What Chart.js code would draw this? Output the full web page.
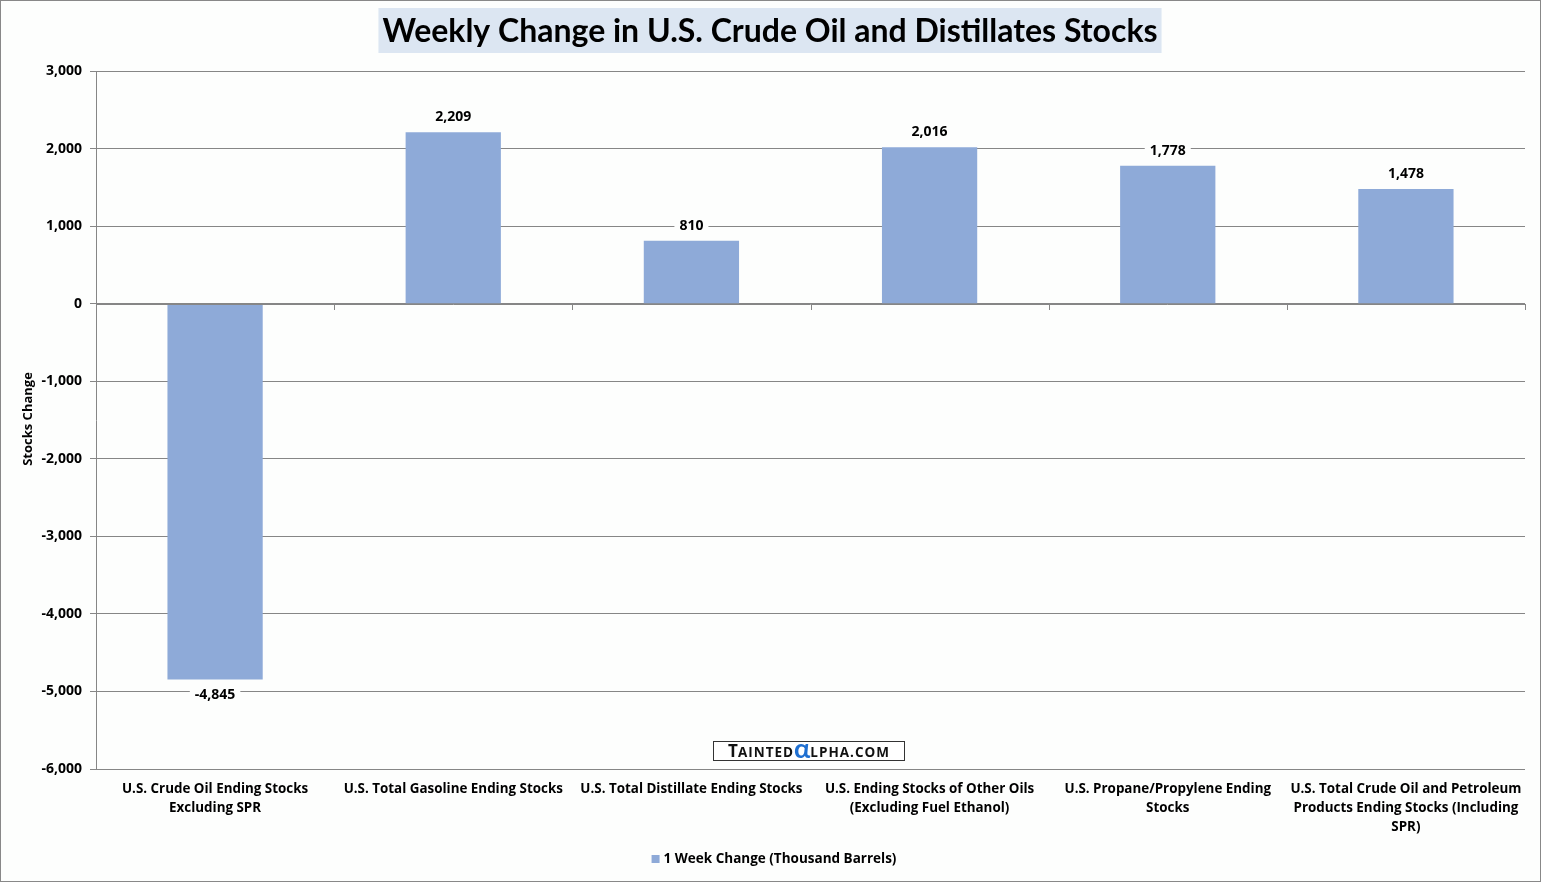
<!DOCTYPE html>
<html>
<head>
<meta charset="utf-8">
<script src="https://cdn.jsdelivr.net/npm/chart.js@4"></script>
<style>
html,body{margin:0;padding:0;background:#fff;}
#wrap{width:1541px;height:882px;position:relative;}
</style>
</head>
<body>
<div id="wrap"><canvas id="c" width="1541" height="882"></canvas></div>
<script>
const titleText = "Weekly Change in U.S. Crude Oil and Distillates Stocks";
const seriesName = "1 Week Change (Thousand Barrels)";
const categories = [
  ["U.S. Crude Oil Ending Stocks", "Excluding SPR"],
  ["U.S. Total Gasoline Ending Stocks"],
  ["U.S. Total Distillate Ending Stocks"],
  ["U.S. Ending Stocks of Other Oils", "(Excluding Fuel Ethanol)"],
  ["U.S. Propane/Propylene Ending", "Stocks"],
  ["U.S. Total Crude Oil and Petroleum", "Products Ending Stocks (Including", "SPR)"]
];
const weekChange = [-4845, 2209, 810, 2016, 1778, 1478];
const yMin = -6000, yMax = 3000, yStep = 1000;
const yTitle = "Stocks Change";

const TFONT = "Lato, 'Open Sans', sans-serif";
const FONT = "'Open Sans', sans-serif";
const barColor = "#8eaad8";
const gridColor = "#868686";
const fmt = v => v.toLocaleString("en-US");

const decor = {
  id: "decor",
  beforeDraw(chart) {
    const ctx = chart.ctx;
    ctx.save();
    ctx.fillStyle = "#fdfefd";
    ctx.fillRect(0, 0, chart.width, chart.height);
    ctx.restore();
  },
  afterDatasetsDraw(chart) {
    const ctx = chart.ctx;
    const x = chart.scales.x, y = chart.scales.y;
    const y0 = y.getPixelForValue(0);
    ctx.save();
    ctx.strokeStyle = gridColor;
    ctx.lineWidth = 1;
    ctx.beginPath();
    ctx.moveTo(chart.chartArea.left, Math.round(y0) + 0.5);
    ctx.lineTo(chart.chartArea.right, Math.round(y0) + 0.5);
    for (let i = 0; i <= categories.length; i++) {
      const px = Math.round(x.getPixelForValue(i - 0.5)) + 0.5;
      ctx.moveTo(px, Math.round(y0));
      ctx.lineTo(px, Math.round(y0) + 6);
    }
    ctx.stroke();
    const meta = chart.getDatasetMeta(0);
    ctx.font = "bold 14px " + FONT;
    ctx.textAlign = "center";
    ctx.textBaseline = "middle";
    meta.data.forEach((bar, i) => {
      const v = weekChange[i];
      const t = fmt(v);
      const ly = v >= 0 ? bar.y - 15 : bar.y + 16;
      const w = ctx.measureText(t).width + 10;
      ctx.fillStyle = "#fdfefd";
      ctx.fillRect(bar.x - w / 2, ly - 9, w, 18);
      ctx.fillStyle = "#000";
      ctx.fillText(t, bar.x, ly);
    });
    ctx.restore();
  },
  afterDraw(chart) {
    const ctx = chart.ctx;
    ctx.save();
    ctx.font = "bold 32px " + TFONT;
    ctx.textAlign = "center";
    ctx.textBaseline = "middle";
    const tw = ctx.measureText(titleText).width;
    const cx = 770;
    ctx.fillStyle = "#dce6f2";
    ctx.fillRect(cx - tw / 2 - 4, 8, tw + 8, 45);
    ctx.fillStyle = "#000";
    ctx.fillText(titleText, cx, 32);
    ctx.save();
    ctx.translate(28, 419);
    ctx.rotate(-Math.PI / 2);
    ctx.font = "bold 13px " + FONT;
    ctx.fillText(yTitle, 0, 0);
    ctx.restore();
    ctx.font = "bold 13.5px " + FONT;
    ctx.textAlign = "left";
    const lw = ctx.measureText(seriesName).width;
    const lx = 774 - (lw + 12) / 2;
    ctx.fillStyle = barColor;
    ctx.fillRect(lx, 855, 8, 8);
    ctx.fillStyle = "#000";
    ctx.fillText(seriesName, lx + 12, 859);
    // watermark
    const parts = [
      { t: "T", f: "bold 17px " + FONT, c: "#111", dy: 0, sp: 0 },
      { t: "AINTED", f: "bold 13.5px " + FONT, c: "#111", dy: 0, sp: 1 },
      { t: "α", f: "bold 27px " + TFONT, c: "#1f6fd1", dy: 1, sp: 0 },
      { t: "LPHA.COM", f: "bold 13.5px " + FONT, c: "#111", dy: 0, sp: 1 }
    ];
    let total = 0;
    parts.forEach(p => { ctx.font = p.f; p.w = 0; for (const ch of p.t) p.w += ctx.measureText(ch).width + p.sp; total += p.w; });
    ctx.fillStyle = "#fff";
    ctx.fillRect(713.5, 741.5, 191, 19);
    ctx.strokeStyle = "#333";
    ctx.lineWidth = 1;
    ctx.strokeRect(713.5, 741.5, 191, 19);
    let wx = 809 - total / 2;
    ctx.textBaseline = "alphabetic";
    parts.forEach(p => {
      ctx.font = p.f;
      ctx.fillStyle = p.c;
      for (const ch of p.t) { ctx.fillText(ch, wx, 757 + p.dy); wx += ctx.measureText(ch).width + p.sp; }
    });
    ctx.strokeStyle = "#888";
    ctx.strokeRect(0.5, 0.5, chart.width - 1, chart.height - 1);
    ctx.restore();
  }
};

new Chart(document.getElementById("c"), {
  type: "bar",
  data: {
    labels: categories,
    datasets: [{
      label: seriesName,
      data: weekChange,
      backgroundColor: barColor,
      borderWidth: 0,
      categoryPercentage: 1,
      barPercentage: 0.4
    }]
  },
  options: {
    responsive: false,
    animation: false,
    devicePixelRatio: 1,
    layout: { padding: { top: 71, right: 16, left: 0, bottom: 0 } },
    plugins: { legend: { display: false }, title: { display: false }, tooltip: { enabled: false } },
    scales: {
      x: {
        grid: { display: false },
        border: { display: false },
        ticks: { color: "#000", font: { family: FONT, weight: "bold", size: 13.4, lineHeight: 1.45 }, padding: 2, maxRotation: 0, autoSkip: false },
        afterFit(s) { s.height = 882 - 769; }
      },
      y: {
        min: yMin, max: yMax,
        ticks: { stepSize: yStep, color: "#000", font: { family: FONT, weight: "bold", size: 14 }, padding: 8, callback: v => fmt(v) },
        grid: { color: gridColor, tickLength: 6, tickColor: gridColor },
        border: { color: gridColor },
        afterFit(s) { s.width = 96; }
      }
    }
  },
  plugins: [decor]
});
</script>
</body>
</html>
